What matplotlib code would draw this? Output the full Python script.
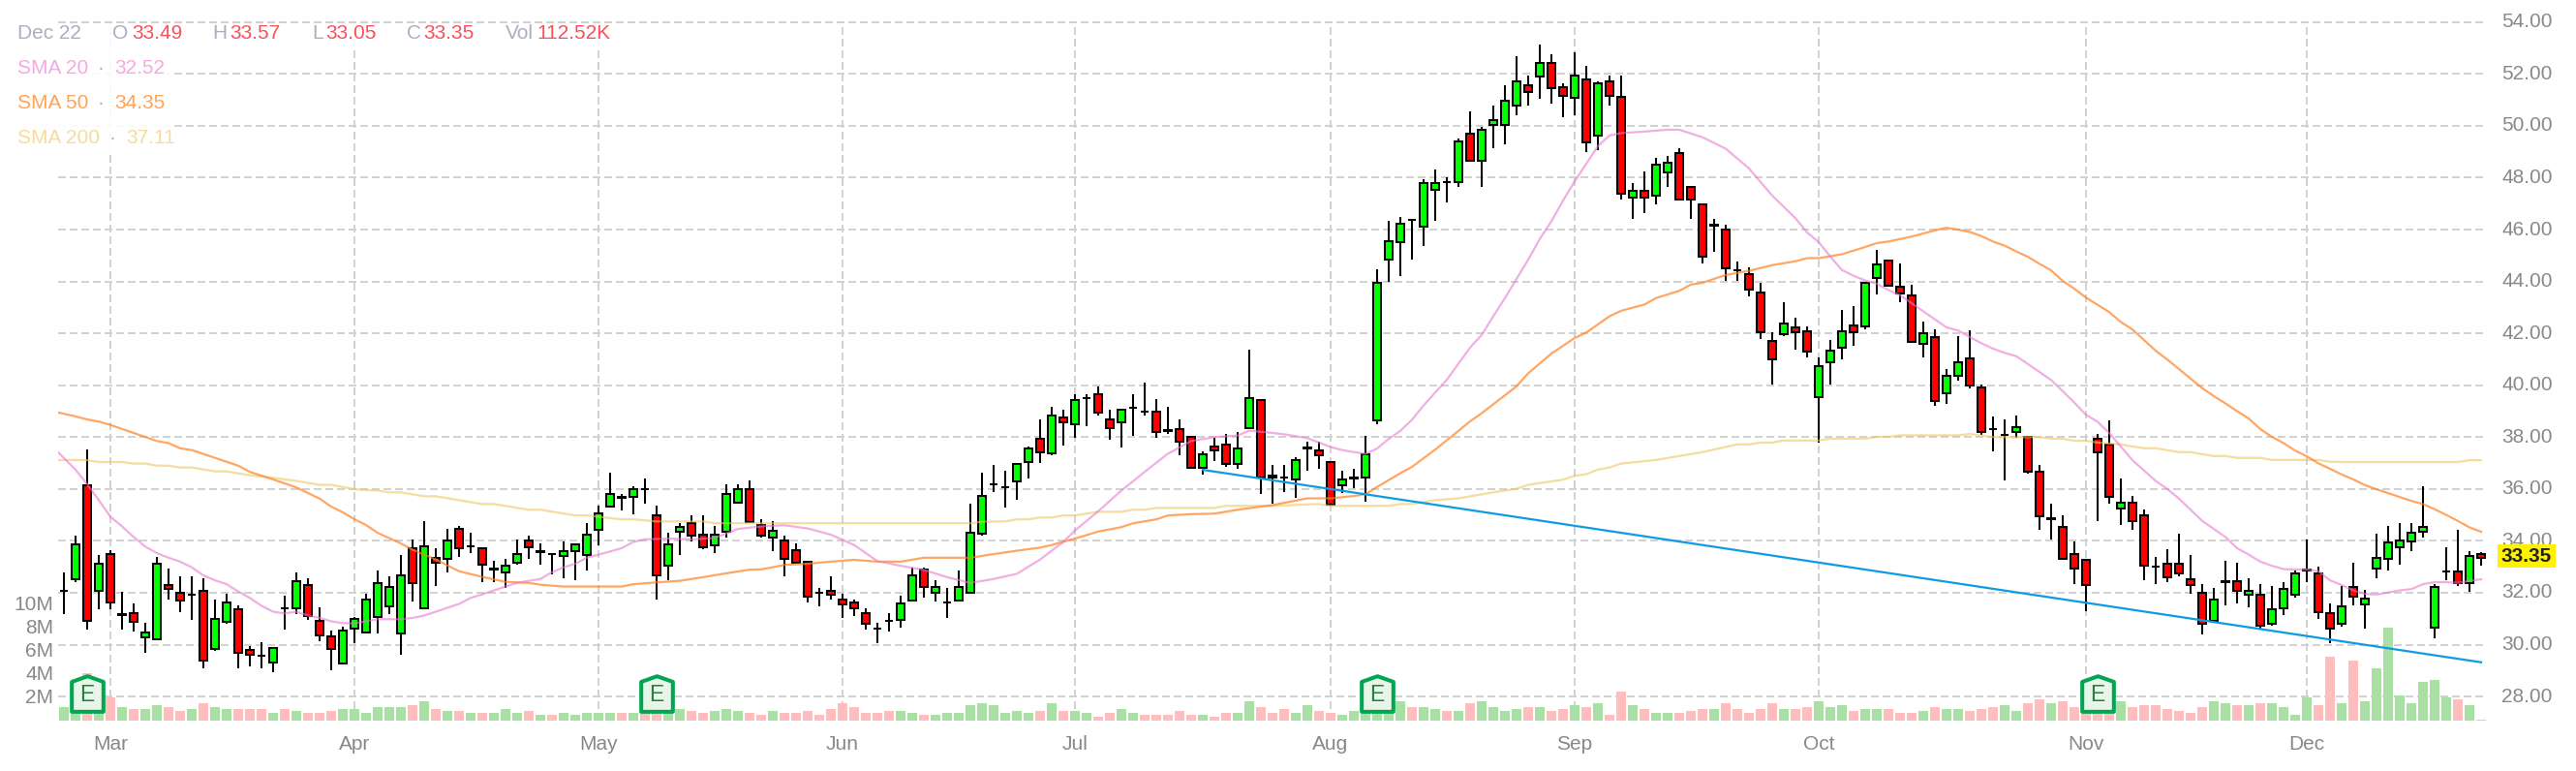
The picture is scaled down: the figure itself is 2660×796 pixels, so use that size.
import numpy as np
import matplotlib
matplotlib.use('Agg')
import matplotlib.pyplot as plt
from matplotlib.path import Path
from matplotlib.markers import MarkerStyle
from matplotlib.patches import Rectangle
from matplotlib.transforms import ScaledTranslation

plt.rcParams['font.family'] = ['Liberation Sans', 'DejaVu Sans']

opens = [32.09,32.51,36.16,32.09,33.49,31.18,31.20,30.29,30.21,32.31,
         32.01,31.93,32.09,29.84,30.88,31.35,29.79,29.57,29.32,31.41,
         31.40,32.31,30.90,30.31,29.27,30.61,30.46,31.05,31.49,30.43,
         33.72,31.40,33.35,33.32,34.46,33.79,33.72,32.95,32.80,33.17,
         34.01,33.61,33.49,33.40,33.62,33.47,34.43,35.32,35.70,35.69,
         36.00,34.98,33.03,34.36,34.68,34.24,33.84,34.36,35.47,36.01,
         34.60,34.14,34.01,33.64,33.20,32.01,32.09,31.72,31.64,31.20,
         30.60,30.90,30.95,31.69,32.90,31.99,31.64,31.69,31.99,34.29,
         36.19,36.07,36.28,37.03,37.94,37.39,38.75,38.51,39.49,39.64,
         38.68,38.58,39.12,38.98,38.98,38.28,38.31,38.01,36.80,37.64,
         37.72,36.95,38.36,39.42,36.50,36.43,36.36,37.61,37.50,37.05,
         36.14,36.43,36.43,38.66,44.86,45.53,46.36,46.12,47.53,47.85,
         47.83,49.70,48.64,50.05,50.05,50.79,51.56,51.90,52.44,51.48,
         51.09,51.78,49.61,51.70,51.11,47.23,47.48,47.31,48.20,48.96,
         47.63,46.96,46.19,46.00,44.45,44.30,43.56,41.70,41.98,42.22,
         42.07,39.54,40.88,41.46,42.30,42.27,44.15,44.82,43.78,43.48,
         41.60,41.85,39.68,40.35,41.04,39.93,38.31,38.07,38.21,38.01,
         36.68,34.87,34.53,33.49,33.27,37.94,37.72,35.25,35.49,34.98,
         33.00,33.12,33.12,32.53,32.01,30.90,32.44,32.46,31.91,31.94,
         30.80,31.42,31.91,32.89,32.75,31.20,30.80,32.24,31.54,32.95,
         33.32,33.77,33.99,34.36,30.66,32.83,32.83,32.36,33.49]
highs = [32.78,34.19,37.52,33.45,33.66,32.04,31.59,30.85,33.37,32.93,
         32.63,32.63,32.56,31.74,31.96,31.52,29.96,30.11,29.87,31.89,
         32.78,32.56,31.45,30.56,30.70,31.07,31.96,32.85,32.63,33.45,
         34.04,34.78,33.72,34.48,34.56,34.33,33.72,33.22,33.30,34.04,
         34.19,33.89,33.49,33.96,33.87,34.70,35.37,36.63,35.79,36.11,
         36.41,35.37,34.33,34.70,35.00,35.00,34.56,36.19,36.19,36.33,
         34.85,34.78,34.19,33.89,33.20,32.19,32.63,31.96,31.74,31.42,
         30.85,31.22,31.89,32.98,32.98,32.48,32.19,32.85,35.45,36.63,
         36.93,36.70,36.98,37.64,38.70,39.15,39.07,39.67,39.67,39.96,
         39.07,39.05,39.67,40.11,39.45,39.15,38.70,38.01,37.44,37.96,
         38.11,38.19,41.37,39.42,36.93,36.93,37.22,37.82,37.82,37.05,
         36.71,36.78,38.04,44.47,46.32,46.47,46.36,47.95,48.32,48.03,
         49.51,50.54,49.95,50.77,51.58,52.69,51.95,53.14,52.77,51.65,
         52.84,52.32,51.73,51.95,51.95,47.80,48.25,48.77,48.84,49.14,
         47.63,46.96,46.40,46.17,44.77,44.54,43.95,42.03,43.21,42.62,
         42.25,41.06,41.73,42.91,43.06,43.93,45.21,44.82,44.69,43.88,
         42.47,42.17,40.62,41.88,42.10,40.02,38.78,38.70,38.85,38.01,
         36.93,35.45,35.00,33.96,33.27,38.11,38.63,36.41,35.74,35.22,
         33.37,33.67,34.26,33.45,32.33,32.19,33.22,33.15,32.56,32.33,
         32.26,32.41,32.85,34.04,33.00,31.59,32.26,33.15,32.11,34.26,
         34.56,34.70,34.70,36.11,32.33,33.74,34.41,33.59,33.57]
lows = [31.16,32.42,30.57,31.38,31.38,30.57,30.50,29.68,30.21,31.75,
        31.24,30.94,29.09,29.75,30.79,29.09,29.16,29.09,28.94,30.57,
        31.16,30.94,30.12,29.01,29.27,30.05,30.46,30.42,31.16,29.61,
        31.68,31.40,32.27,32.79,33.38,33.53,32.42,32.42,32.20,33.09,
        33.31,33.09,32.72,32.57,32.49,32.87,33.83,35.32,35.16,35.01,
        35.45,31.74,32.48,33.46,33.99,33.69,33.53,34.12,35.47,34.73,
        34.12,33.60,32.64,33.17,31.61,31.46,31.75,31.01,31.09,30.57,
        30.05,30.50,30.64,31.69,31.83,31.68,31.01,31.69,31.99,34.21,
        35.90,35.30,35.59,36.41,37.00,37.32,37.67,37.96,38.41,38.85,
        37.89,37.59,38.04,38.85,37.96,38.11,37.30,36.80,36.56,37.07,
        36.85,36.78,38.36,35.82,35.42,35.89,35.67,36.71,36.78,35.40,
        35.83,36.04,35.52,38.48,43.98,44.20,44.86,45.36,46.32,47.06,
        47.65,48.64,47.65,49.14,49.28,50.40,50.77,51.06,50.84,50.32,
        50.40,48.99,49.06,50.77,47.16,46.40,46.62,46.99,47.65,47.16,
        46.40,44.69,45.14,44.03,44.03,43.43,41.80,40.04,41.88,41.36,
        41.06,37.77,40.04,40.99,41.51,42.17,43.51,43.83,43.21,41.68,
        41.06,39.21,39.28,40.17,39.88,38.10,37.45,36.33,37.99,36.58,
        34.41,34.04,33.32,32.33,31.30,34.78,35.45,34.63,34.41,32.48,
        32.33,32.41,32.63,31.96,30.41,30.90,31.52,31.59,31.45,30.57,
        30.73,31.15,31.82,32.41,31.00,30.04,30.70,31.52,30.63,32.56,
        32.85,33.07,33.59,34.11,30.26,32.48,32.26,32.04,33.05]
closes = [32.09,33.87,30.90,33.12,31.64,31.14,30.88,30.46,33.12,32.14,
          31.69,31.93,29.40,30.98,31.64,29.69,29.62,29.57,29.87,31.41,
          32.46,31.12,30.36,29.84,30.53,30.98,31.72,32.38,32.24,32.68,
          32.38,33.79,33.17,34.01,33.72,33.79,33.10,32.91,33.05,33.49,
          33.77,33.57,33.49,33.62,33.87,34.24,35.05,35.79,35.66,36.01,
          36.00,32.66,33.87,34.53,34.21,33.77,34.24,35.79,36.01,34.73,
          34.21,34.38,33.32,33.17,31.84,32.01,31.91,31.54,31.40,30.80,
          30.60,30.90,31.57,32.68,32.21,32.24,31.64,32.24,34.31,35.72,
          36.19,36.07,36.98,37.57,37.42,38.83,38.58,39.42,39.49,38.95,
          38.36,39.05,39.12,38.98,38.21,38.24,37.84,36.80,37.35,37.47,
          36.95,37.57,39.49,36.46,36.46,36.43,37.12,37.57,37.32,35.40,
          36.38,36.39,37.35,43.93,45.56,46.22,46.36,47.78,47.78,47.85,
          49.41,48.64,49.85,50.22,50.96,51.70,51.31,52.44,51.46,51.16,
          51.93,49.38,51.63,51.16,47.38,47.48,47.23,48.52,48.59,47.16,
          47.16,44.94,46.15,44.49,44.45,43.68,42.05,41.01,42.37,42.05,
          41.31,40.74,41.33,42.07,42.05,43.93,44.67,43.83,43.53,41.68,
          42.00,39.38,40.37,40.89,39.98,38.20,38.31,38.07,38.38,36.66,
          34.95,34.83,33.32,32.95,32.28,37.40,35.69,35.49,34.75,33.03,
          33.00,32.58,32.73,32.28,30.80,31.72,32.40,32.06,32.09,30.73,
          31.35,32.16,32.75,32.85,31.27,30.61,31.49,31.84,31.79,33.35,
          33.94,34.01,34.31,34.53,32.24,32.83,32.38,33.42,33.35]

volume_m = [1.16,1.6,4.08,1.9,1.99,1.16,1.0,1.0,1.32,1.16,
            .83,1.0,1.49,1.16,1.0,1.0,1.0,1.0,.66,1.0,
            .83,.66,.66,.83,1.0,1.0,.66,1.16,1.16,1.16,
            1.32,1.66,1.0,.83,.83,.66,.66,.66,1.0,.66,
            .83,.5,.5,.66,.5,.66,.66,.66,.66,.66,
            .8,1.2,.9,1.0,.83,.66,.83,1.0,.83,.66,
            .5,.83,.66,.66,.83,.5,1.0,1.49,1.16,.66,
            .66,.83,.83,.66,.5,.5,.66,.66,1.32,1.49,
            1.32,.66,.83,.66,.83,1.49,.83,.83,.66,.33,
            .66,1.0,.66,.5,.5,.5,.83,.5,.5,.33,
            .66,.66,1.66,1.16,.66,1.0,.66,1.32,.83,.66,
            .5,.83,1.0,3.0,1.5,1.66,1.16,1.16,1.0,.83,
            .83,1.49,1.66,1.16,.83,1.0,1.16,1.16,.83,1.0,
            1.32,1.16,1.49,.5,2.48,1.32,1.0,.66,.66,.66,
            .83,1.0,1.0,1.49,1.0,.66,1.0,1.49,1.0,1.0,
            1.16,1.66,1.16,1.32,.83,1.0,1.0,1.0,.66,.66,
            .83,1.16,1.0,1.0,.83,1.0,1.16,1.32,.83,1.49,
            1.82,1.49,1.66,1.16,1.0,1.5,1.2,1.66,1.16,1.32,
            1.32,1.0,.83,.66,1.16,1.66,1.49,1.32,1.32,1.49,
            1.49,1.16,.5,1.99,1.32,5.46,1.49,5.13,1.66,4.47,
            7.94,2.15,1.49,3.31,3.48,1.99,1.82,1.32,.11]
volume_dir = ("ggrgrgrggr" "rgrggrrrgr" "grrrgggggg" "rgrgrgrggg" "rgrgggggrg"
              "rrggrrgggr" "rgrrrrrrrr" "rrggrggggg" "ggggrgrggr" "rggrrrrrgr"
              "rggrrrggrr" "ggggggrggr" "grggggrgrr" "grgrrgrggr" "rrgrrrrrgr"
              "rgggrggrrr" "grggrrrggr" "rgrrrrrgrr" "rrrrrggrgr" "ggggrrgrgg" "ggggggrgr")

sma20_x = [-0.5,1,2,3,4,5,6,7,8,9,10,11,12,13,14,15,16,17,18,19,20,21,22,23,24,25,26,27,28,29,30,31,32,33,34,35,36,37,38,39,
           40,41,42,43,44,45,46,47,48,49,50,52,54,56,58,60,62,64,66,68,70,72,74,76,78,80,82,84,86,87,89,91,93,95,97,99,101,102,
           104,105,107,109,110,112,113,114,115,116,117,118,119,120,121,122,123,124,125,126,127,128,129,130,131,132,133,134,136,
           138,139,141,143,145,147,149,150,151,152,153,154,155,156,157,158,159,160,161,162,163,164,165,166,167,168,169,170,171,
           172,173,174,175,176,178,180,181,182,183,184,185,186,187,188,189,190,191,192,193,194,195,196,197,198,199,200,201,202,
           203,204,205,206,207,208]
sma20_y = [37.42,36.74,36.19,35.57,34.93,34.56,34.15,33.78,33.53,33.35,33.2,32.98,32.67,32.48,32.33,32.05,31.8,31.5,31.27,31.2,
           31.27,31.12,31.03,30.9,30.83,30.82,30.9,30.98,30.98,30.98,31.03,31.12,31.27,31.42,31.57,31.8,31.94,32.09,32.24,32.38,
           32.46,32.53,32.79,32.98,33.12,33.35,33.47,33.59,33.72,33.96,34.06,34.09,34.06,34.11,34.46,34.56,34.6,34.48,34.24,33.84,
           33.22,33.04,32.88,32.6,32.38,32.53,32.73,33.28,33.96,34.4,35.14,35.94,36.66,37.36,37.85,38.0,38.06,38.25,
           38.16,38.11,37.96,37.62,37.5,37.35,37.56,37.93,38.24,38.67,39.22,39.72,40.21,40.83,41.45,41.94,42.66,43.36,44.1,44.84,
           45.64,46.32,47.12,47.86,48.54,49.22,49.63,49.72,49.78,49.85,49.85,49.56,49.12,48.36,47.31,46.44,45.89,45.52,44.96,44.44,
           44.22,44.04,43.91,43.67,43.47,43.16,42.85,42.54,42.23,42.11,41.86,41.62,41.41,41.25,41.12,40.82,40.51,40.2,39.77,39.33,
           38.86,38.59,38.16,37.11,36.31,36.0,35.63,35.2,34.77,34.46,34.15,33.72,33.47,33.2,33.04,32.91,32.9,32.9,32.83,32.48,
           32.3,32.09,31.96,31.93,32.01,32.09,32.14,32.33,32.41,32.41,32.38,32.46,32.52]

sma50_x = [-0.5,1,2,3,4,6,8,9,10,11,13,15,16,18,20,22,23,24,25,26,27,29,30,32,34,36,38,40,41,43,45,48,49,51,53,55,57,59,60,62,64,66,68,
           70,72,74,76,78,80,82,84,85,87,89,91,92,94,95,97,99,101,103,104,107,109,111,112,113,115,116,118,120,121,122,125,126,128,
           130,131,133,134,136,137,139,140,141,143,145,147,149,150,151,153,155,156,157,159,160,161,162,163,164,165,166,167,168,169,
           170,171,172,173,174,175,176,177,178,179,180,181,184,185,186,187,188,189,190,191,192,193,194,195,196,197,198,199,200,201,
           202,203,204,205,206,207,208]
sma50_y = [38.95,38.8,38.68,38.6,38.47,38.16,37.85,37.77,37.57,37.5,37.2,36.9,36.66,36.37,36.06,35.63,35.32,35.1,34.83,34.61,34.31,
           33.9,33.66,33.28,32.83,32.61,32.42,32.38,32.31,32.24,32.24,32.24,32.33,32.4,32.46,32.6,32.75,32.89,32.9,33.07,33.12,33.2,33.27,
           33.2,33.2,33.35,33.35,33.35,33.49,33.62,33.74,33.84,34.09,34.36,34.53,34.68,34.83,34.98,35.03,35.05,35.2,35.32,35.38,35.64,35.64,
           35.73,35.8,36.08,36.61,36.85,37.52,38.24,38.61,38.92,39.96,40.46,41.22,41.82,42.03,42.66,42.87,43.11,43.36,43.64,43.88,43.95,
           44.25,44.41,44.63,44.78,44.9,44.9,45.05,45.33,45.48,45.54,45.73,45.85,45.97,46.07,46.0,45.91,45.75,45.54,45.38,45.16,44.95,
           44.68,44.43,44.02,43.72,43.38,43.1,42.82,42.44,42.15,41.74,41.33,40.99,39.89,39.58,39.3,39.0,38.72,38.31,38.01,37.77,37.48,
           37.26,36.99,36.78,36.56,36.37,36.15,35.99,35.84,35.69,35.54,35.42,35.22,35.0,34.77,34.52,34.35]

sma200_x = [-0.5,2,3,5,6,7,8,9,10,11,13,14,16,18,20,22,23,25,27,28,29,31,32,34,36,37,40,41,44,45,48,49,51,55,56,62,78,79,81,82,83,84,85,
            86,87,89,91,92,93,94,99,100,104,108,109,114,115,116,118,120,123,125,126,129,130,131,132,133,134,137,141,144,145,146,147,
            148,151,152,155,156,157,158,159,163,164,166,170,171,172,173,174,175,177,178,179,180,182,183,185,186,187,189,190,193,194,
            195,196,206,207,208]
sma200_y = [37.12,37.11,37.04,37.04,36.98,36.98,36.9,36.9,36.83,36.83,36.68,36.68,36.53,36.43,36.31,36.16,36.16,35.99,35.94,35.87,
            35.87,35.72,35.72,35.57,35.42,35.42,35.2,35.2,34.98,34.98,34.83,34.83,34.75,34.75,34.68,34.68,34.68,34.74,34.75,34.83,34.83,
            34.9,34.9,34.98,34.98,35.12,35.12,35.2,35.2,35.27,35.27,35.35,35.35,35.42,35.35,35.35,35.42,35.42,35.57,35.64,35.87,36.01,
            36.16,36.36,36.51,36.57,36.75,36.83,36.98,37.12,37.42,37.72,37.72,37.79,37.79,37.87,37.87,37.94,37.94,38.01,38.01,38.07,
            38.07,38.07,38.12,38.0,38.0,37.94,37.94,37.86,37.86,37.79,37.72,37.64,37.57,37.57,37.42,37.42,37.27,37.27,37.2,37.2,37.12,
            37.12,37.12,37.05,37.04,37.04,37.11,37.11]

trend_x = [98, 208]
trend_y = [36.74, 29.32]

earnings_idx = [2, 51, 113, 175]
month_idx = [4, 25, 46, 67, 87, 109, 130, 151, 174, 193]
month_labels = ['Mar', 'Apr', 'May', 'Jun', 'Jul', 'Aug', 'Sep', 'Oct', 'Nov', 'Dec']
price_ticks = [28, 30, 32, 34, 36, 38, 40, 42, 44, 46, 48, 50, 52, 54]
volume_ticks = [2, 4, 6, 8, 10]

W, H = 2660, 796
fig = plt.figure(figsize=(W / 100, H / 100), dpi=100, facecolor='white')
rect = [60 / W, 1 - 744 / H, (2568 - 60) / W, (744 - 22) / H]

# grid + price/month labels at the bottom, then volume, then candles
ax_base = fig.add_axes(rect)
ax_vol = ax_base.twinx()
ax = ax_base.twinx()
ax_base.set_zorder(1)
ax_vol.set_zorder(2)
ax.set_zorder(3)
ax_vol.patch.set_visible(False)
ax.patch.set_visible(False)

x = np.arange(len(closes))
xlim = (-0.5, 208.5)
price_lim = (27.07, 54.03)
ax_base.set_xlim(*xlim)
ax_base.set_ylim(*price_lim)
ax.set_ylim(*price_lim)
ax_vol.set_ylim(0, 59.67)

grid_col = '#d2d2d2'
dash = (0, (4, 2))
ax_base.grid(True, color=grid_col, linewidth=1.44, linestyle=dash)
ax_base.set_axisbelow(True)
ax_base.set_yticks(price_ticks)
ax_base.set_yticklabels(['%.2f' % p for p in price_ticks])
ax_base.yaxis.tick_right()
ax_base.set_xticks(month_idx)
ax_base.set_xticklabels(month_labels)
ax_base.tick_params(axis='y', length=0, pad=10.8, labelsize=15, labelcolor='#888888')
ax_base.tick_params(axis='x', length=0, pad=10.5, labelsize=15, labelcolor='#888888')
# labels sit a little above their grid lines
up = ScaledTranslation(0, 2 / 100, fig.dpi_scale_trans)
for lab in ax_base.get_yticklabels():
    lab.set_transform(lab.get_transform() + up)

vol_col = ['#a9dfa5' if d == 'g' else '#ffbdbd' for d in volume_dir]
ax_vol.bar(x, volume_m, width=0.83, color=vol_col, linewidth=0)
ax_vol.set_yticks(volume_ticks)
ax_vol.set_yticklabels(['%dM' % v for v in volume_ticks])
ax_vol.yaxis.tick_left()
ax_vol.tick_params(axis='y', length=0, pad=3.5, labelsize=15, labelcolor='#888888')
up_vol = ScaledTranslation(0, 1 / 100, fig.dpi_scale_trans)
for lab in ax_vol.get_yticklabels():
    lab.set_transform(lab.get_transform() + up_vol)

# earnings badges sit in the volume axes, above the bars
badge = Path([(0, 18.3), (16.3, 12.5), (16.3, -18.3), (-16.3, -18.3), (-16.3, 12.5), (0, 18.3)], closed=True)
ax_vol.plot(earnings_idx, [2.31] * len(earnings_idx), linestyle='none',
            marker=MarkerStyle(badge, joinstyle='round'), markersize=26.4,
            markerfacecolor='#e8f6ea', markeredgecolor='#00a651', markeredgewidth=2.9, zorder=6)
for i in earnings_idx:
    ax_vol.text(i, 2.2, 'E', ha='center', va='center', fontsize=16.5, color='#23803f', zorder=7)

ax.vlines(x, lows, highs, color='black', linewidth=1.44, zorder=2)
o = np.array(opens)
c = np.array(closes)
body_col = ['#00ff00' if b > a else ('#ff0000' if b < a else 'black') for a, b in zip(o, c)]
ax.bar(x, c - o, bottom=o, width=0.667, color=body_col, edgecolor='black', linewidth=1.44, zorder=3)

ax.plot(sma200_x, sma200_y, color='#efc560', alpha=0.6, linewidth=1.6, zorder=4)
ax.plot(sma50_x, sma50_y, color='#ff8122', alpha=0.7, linewidth=1.6, zorder=4)
ax.plot(sma20_x, sma20_y, color='#e879d0', alpha=0.6, linewidth=1.6, zorder=4)
ax.plot(trend_x, trend_y, color='#0f9be2', linewidth=1.6, zorder=5)
ax.set_yticks([])
ax.set_xlim(*xlim)

for a in (ax_base, ax_vol, ax):
    for s in a.spines.values():
        s.set_visible(False)

# legend block, pixel coordinates from the top left
def px(xp, yp):
    return xp / W, 1 - yp / H

for (x0, y0, w0, h0) in [(16, 25, 614, 23), (16, 48, 160, 112)]:
    fig.add_artist(Rectangle(px(x0, y0 + h0), w0 / W, h0 / H, transform=fig.transFigure,
                             facecolor='white', edgecolor='none', alpha=0.9, zorder=10))

grey = '#a9aec2'
red = '#f9505a'
header = [('Dec 22', 18, grey), ('O', 116, grey), ('33.49', 136, red), ('H', 219, grey), ('33.57', 237, red),
          ('L', 322, grey), ('33.05', 336, red), ('C', 420, grey), ('33.35', 437, red), ('Vol', 522, grey),
          ('112.52K', 554, red)]
for txt, xp, col in header:
    fig.text(*px(xp, 35), txt, color=col, fontsize=15, ha='left', va='center', zorder=11)

rows = [('SMA 20', '32.52', '#f4a9e0', 71, 104, 118),
        ('SMA 50', '34.35', '#ffa354', 107, 104, 118),
        ('SMA 200', '37.11', '#f6dc9c', 143, 116, 130)]
for name, val, col, yp, xdot, xval in rows:
    fig.text(*px(18, yp), name, color=col, fontsize=15, ha='left', va='center', zorder=11)
    fig.text(*px(xdot, yp), '·', color=grey, fontsize=15, ha='center', va='center', zorder=11)
    fig.text(*px(xval, yp), val, color=col, fontsize=15, ha='left', va='center', zorder=11)

# last price tag
fig.add_artist(Rectangle(px(2579, 586), 60 / W, 24 / H, transform=fig.transFigure,
                         facecolor='#fff200', edgecolor='none', zorder=10))
fig.text(*px(2609, 574), '%.2f' % closes[-1], color='#222222', fontsize=15, fontweight='bold',
         ha='center', va='center', zorder=11)

fig.savefig('out.png', dpi=100, facecolor='white')
